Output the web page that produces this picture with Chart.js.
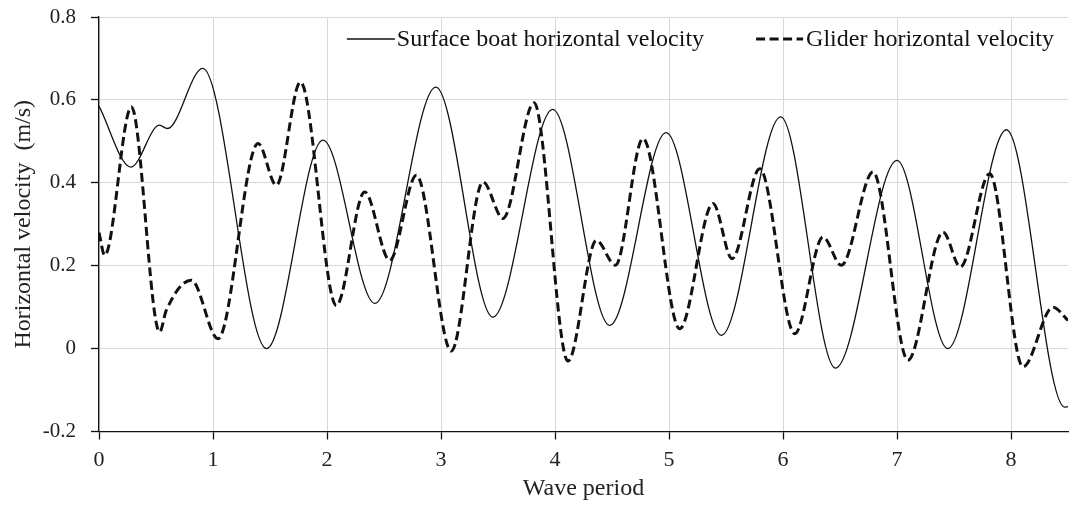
<!DOCTYPE html>
<html>
<head>
<meta charset="utf-8">
<title>Horizontal velocity vs wave period</title>
<script src="https://cdn.jsdelivr.net/npm/chart.js@4.4.1/dist/chart.umd.min.js"></script>
<style>
  html, body { margin: 0; padding: 0; background: #ffffff; }
  #wrap { width: 1073px; height: 509px; }
  canvas { display: block; }
</style>
</head>
<body>
<div id="wrap"><canvas id="chart" width="1073" height="509"></canvas></div>
<script>
// Surface boat horizontal velocity (turning points of the record)
const boatPeriod   = [0, 0.28, 0.53, 0.6, 0.91, 1.47, 1.965, 2.42, 2.955, 3.455, 3.98, 4.48, 4.975, 5.46, 5.98, 6.46, 7.0, 7.445, 7.96, 8.47, 8.5];
const boatVelocity = [0.585, 0.438, 0.539, 0.531, 0.676, 0.0, 0.503, 0.109, 0.631, 0.076, 0.577, 0.056, 0.521, 0.032, 0.559, -0.047, 0.454, 0.0, 0.528, -0.141, -0.14];

// Glider horizontal velocity (turning points of the record)
const gliderPeriod   = [0, 0.05, 0.284, 0.532, 0.59, 0.81, 1.044, 1.395, 1.556, 1.767, 2.082, 2.33, 2.55, 2.784, 3.09, 3.368, 3.544, 3.816, 4.114, 4.363, 4.53, 4.772, 5.094, 5.386, 5.553, 5.796, 6.103, 6.351, 6.512, 6.79, 7.096, 7.404, 7.556, 7.813, 8.105, 8.368, 8.5];
const gliderVelocity = [0.28, 0.225, 0.583, 0.04, 0.092, 0.165, 0.024, 0.495, 0.394, 0.643, 0.104, 0.378, 0.213, 0.418, -0.006, 0.402, 0.314, 0.593, -0.03, 0.261, 0.201, 0.507, 0.048, 0.35, 0.217, 0.434, 0.036, 0.269, 0.201, 0.426, -0.028, 0.281, 0.197, 0.422, -0.044, 0.1, 0.068];

// Axis ticks
const xTickValues = [0, 1, 2, 3, 4, 5, 6, 7, 8];
const xTickLabels = ['0', '1', '2', '3', '4', '5', '6', '7', '8'];
const yTickValues = [-0.2, 0, 0.2, 0.4, 0.6, 0.8];
const yTickLabels = ['-0.2', '0', '0.2', '0.4', '0.6', '0.8'];

const SERIF = '"Liberation Serif", "Times New Roman", serif';

function toPoints(xs, ys) {
  return xs.map((x, i) => ({ x: x, y: ys[i] }));
}

// Legend drawn inside the plot area, right-aligned, with short line samples
const insideLegend = {
  id: 'insideLegend',
  afterDraw(chart) {
    const { ctx, chartArea } = chart;
    const ds = chart.data.datasets;
    ctx.save();
    ctx.font = '24px ' + SERIF;
    ctx.textBaseline = 'middle';
    ctx.fillStyle = '#111111';
    const y = chartArea.top + 22;
    const sampleLen = [48, 47];
    const sampleGap = [2, 3];
    let right = chartArea.right - 14;
    for (let i = ds.length - 1; i >= 0; i--) {
      const d = ds[i];
      const w = ctx.measureText(d.label).width;
      const textX = right - w;
      ctx.fillText(d.label, textX, y + 1);
      const x1 = textX - sampleGap[i];
      const x0 = x1 - sampleLen[i];
      ctx.beginPath();
      ctx.setLineDash(d.borderDash || []);
      ctx.lineWidth = d.borderWidth;
      ctx.strokeStyle = d.borderColor;
      ctx.moveTo(x0, y);
      ctx.lineTo(x1, y);
      ctx.stroke();
      ctx.setLineDash([]);
      right = x0 - 52;
    }
    ctx.restore();
  }
};

new Chart(document.getElementById('chart'), {
  type: 'line',
  data: {
    datasets: [
      {
        label: 'Surface boat horizontal velocity',
        data: toPoints(boatPeriod, boatVelocity),
        borderColor: '#111111',
        borderWidth: 1.3,
        pointRadius: 0,
        fill: false,
        cubicInterpolationMode: 'monotone'
      },
      {
        label: 'Glider horizontal velocity',
        data: toPoints(gliderPeriod, gliderVelocity),
        borderColor: '#111111',
        borderWidth: 3,
        borderDash: [9, 4.5],
        pointRadius: 0,
        fill: false,
        cubicInterpolationMode: 'monotone'
      }
    ]
  },
  options: {
    responsive: false,
    animation: false,
    devicePixelRatio: 1,
    layout: { padding: { top: 17, right: 5, left: 0, bottom: 0 } },
    plugins: {
      legend: { display: false },
      tooltip: { enabled: false }
    },
    scales: {
      x: {
        type: 'linear',
        min: 0,
        max: 8.5,
        afterFit(scale) {
          scale.height = 77.5;
          scale.paddingLeft = 0;
          scale.paddingRight = 0;
        },
        afterBuildTicks(scale) { scale.ticks = xTickValues.map(v => ({ value: v })); },
        grid: { color: '#d9d9d9', lineWidth: 1, tickLength: 8, tickColor: '#111111', tickWidth: 1.3 },
        border: { color: '#111111', width: 1.3 },
        ticks: {
          padding: 8,
          color: '#222222',
          font: { family: SERIF, size: 22 },
          maxRotation: 0,
          callback(value) { return xTickLabels[xTickValues.indexOf(value)]; }
        },
        title: {
          display: true,
          text: 'Wave period',
          color: '#222222',
          font: { family: SERIF, size: 24 },
          padding: { top: 0, bottom: 6 }
        }
      },
      y: {
        type: 'linear',
        min: -0.2,
        max: 0.8,
        afterFit(scale) {
          scale.width = 99;
          scale.paddingTop = 0;
          scale.paddingBottom = 0;
        },
        afterBuildTicks(scale) { scale.ticks = yTickValues.map(v => ({ value: v })); },
        grid: { color: '#d9d9d9', lineWidth: 1, tickLength: 8, tickColor: '#111111', tickWidth: 1.3 },
        border: { color: '#111111', width: 1.3 },
        ticks: {
          padding: 15,
          color: '#222222',
          font: { family: SERIF, size: 21 },
          callback(value) {
            const i = yTickValues.findIndex(v => Math.abs(v - value) < 1e-9);
            return i >= 0 ? yTickLabels[i] : '';
          }
        },
        title: {
          display: true,
          text: 'Horizontal velocity  (m/s)',
          color: '#222222',
          font: { family: SERIF, size: 24 },
          padding: { top: 9, bottom: 0 }
        }
      }
    }
  },
  plugins: [insideLegend]
});
</script>
</body>
</html>
